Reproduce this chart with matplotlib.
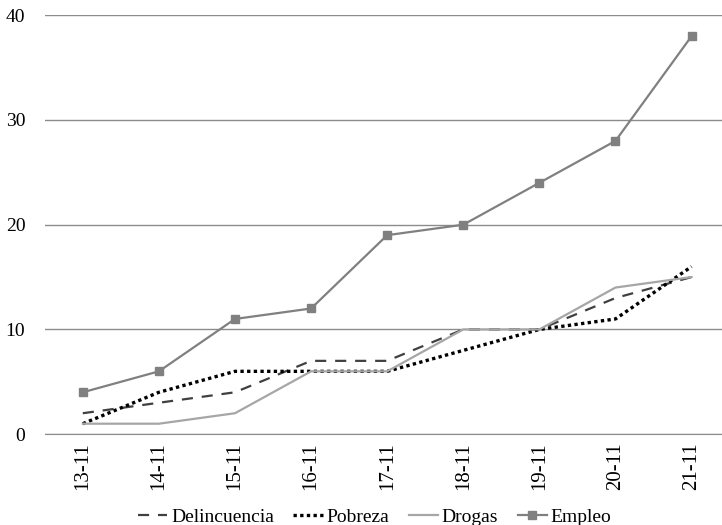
import matplotlib
matplotlib.use("Agg")
import matplotlib.pyplot as plt

# dates on the x axis
fechas = ["13-11", "14-11", "15-11", "16-11", "17-11", "18-11", "19-11", "20-11", "21-11"]

# series values
delincuencia = [2, 3, 4, 7, 7, 10, 10, 13, 15]
pobreza = [1, 4, 6, 6, 6, 8, 10, 11, 16]
drogas = [1, 1, 2, 6, 6, 10, 10, 14, 15]
empleo = [4, 6, 11, 12, 19, 20, 24, 28, 38]

plt.rcParams['font.family'] = ['Liberation Serif', 'DejaVu Serif']

fig = plt.figure(figsize=(7.22, 5.25), dpi=100)
ax = fig.add_axes([0.062, 0.173, 0.938, 0.798])

x = list(range(len(fechas)))
ax.plot(x, delincuencia, color='#404040', linestyle=(0, (5, 4)), linewidth=1.6, label='Delincuencia')
ax.plot(x, pobreza, color='black', linestyle=(0, (1, 1)), linewidth=2.4, label='Pobreza')
ax.plot(x, drogas, color='#a6a6a6', linewidth=1.6, label='Drogas')
ax.plot(x, empleo, color='#808080', linewidth=1.6, marker='s', markersize=6, label='Empleo')

# axes look
ax.set_xlim(-0.5, 8.4)
ax.set_ylim(0, 40)
ax.set_yticks([0, 10, 20, 30, 40])
ax.yaxis.grid(True, color='#8c8c8c', linewidth=1)
ax.set_axisbelow(True)
for s in ['top', 'right', 'left']:
    ax.spines[s].set_visible(False)
ax.spines['bottom'].set_color('#8c8c8c')
ax.tick_params(axis='both', length=0, labelsize=14)
ax.tick_params(axis='x', pad=6, labelsize=15)
ax.tick_params(axis='y', pad=14)
ax.set_xticks(x)
ax.set_xticklabels(fechas, rotation=90)

fig.legend(loc='lower center', bbox_to_anchor=(0.519, -0.035), ncol=4, frameon=False,
           fontsize=14, handlelength=1.5, handletextpad=0.2, columnspacing=1.0)

fig.savefig('out.png', dpi=100)
